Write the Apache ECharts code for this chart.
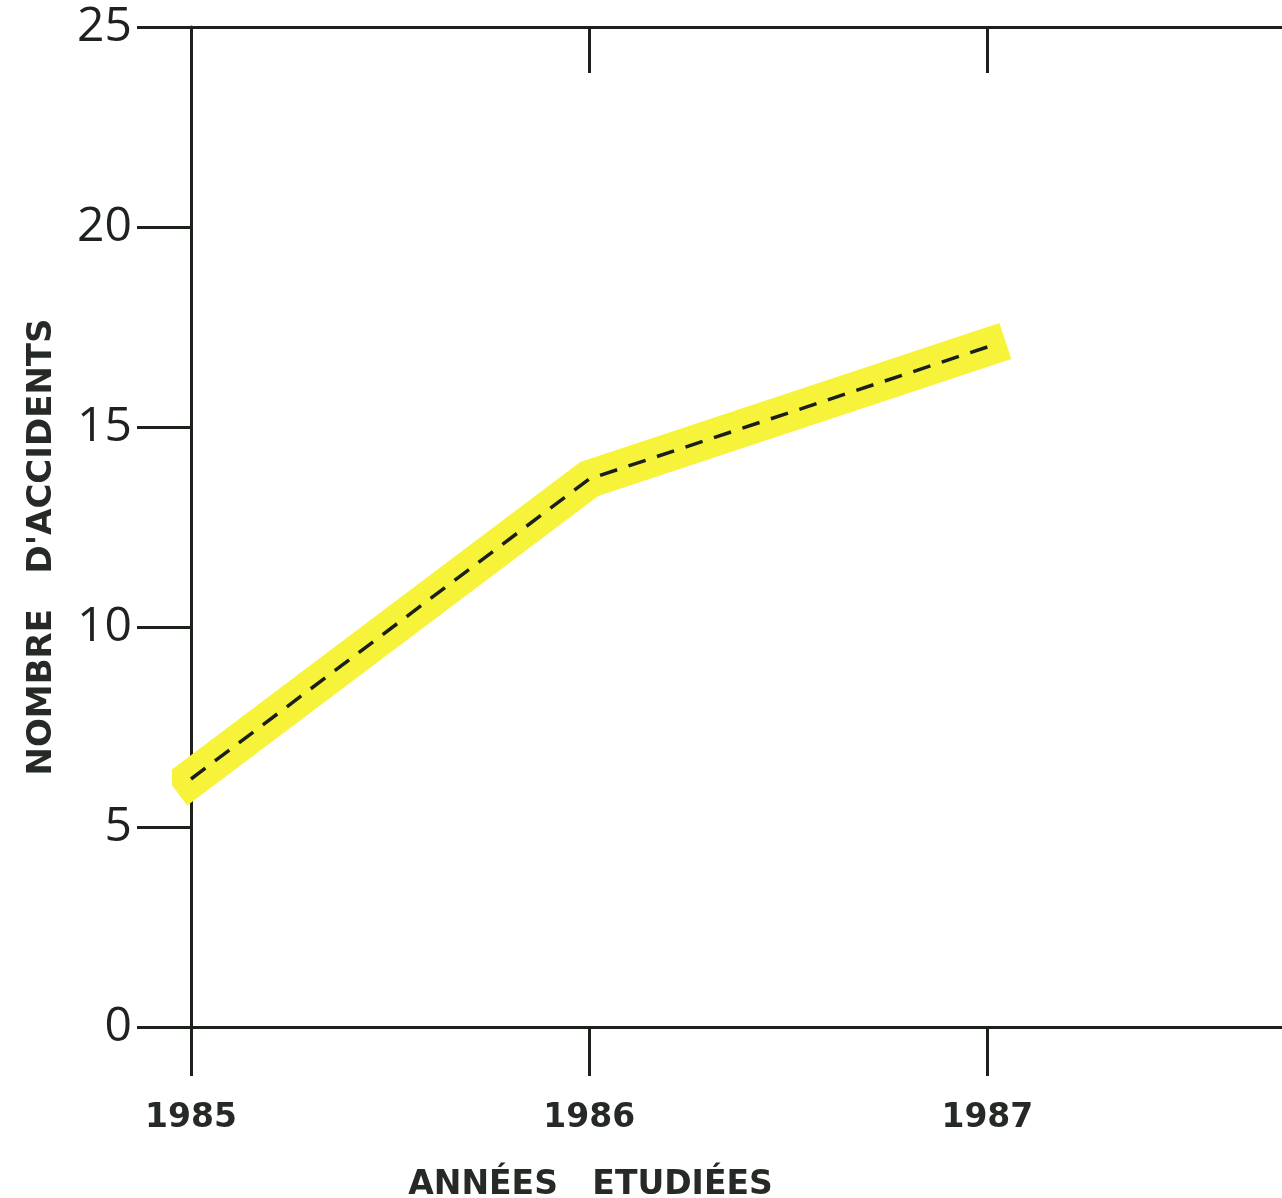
<!DOCTYPE html>
<html>
<head>
<meta charset="utf-8">
<script src="https://cdn.jsdelivr.net/npm/echarts@6/dist/echarts.min.js"></script>
<style>html,body{margin:0;padding:0;background:#fff}#c{width:1282px;height:1198px}</style>
</head>
<body>
<div id="c"></div>
<script>
const years = [1985, 1986, 1987];
const accidents = [6.2, 13.7, 17.0];
const yTicks = [0, 5, 10, 15, 20, 25];
const xTitle = 'ANNÉES   ETUDIÉES';
const yTitle = "NOMBRE   D'ACCIDENTS";

const ink = '#1c211c';
const txt = '#262a26';
const pts = years.map((y, i) => [y, accidents[i]]);

const chart = echarts.init(document.getElementById('c'));
chart.setOption({
  backgroundColor: '#ffffff',
  animation: false,
  grid: { left: 191, right: 0, top: 27, bottom: 171, containLabel: false, outerBoundsMode: 'none' },
  xAxis: [{
    type: 'value', min: 1985, max: 1987.74, position: 'bottom',
    name: xTitle, nameLocation: 'middle', nameGap: 142,
    nameTextStyle: { fontFamily: 'DejaVu Sans', fontWeight: 'bold', fontSize: 33, color: txt,
      padding: [0, 292, 0, 0] },
    axisLine: { show: true, onZero: false, lineStyle: { color: ink, width: 3 } },
    axisTick: { show: true, length: 49, inside: false, customValues: years, lineStyle: { color: ink, width: 3 } },
    axisLabel: { show: true, margin: 75, customValues: years, formatter: v => String(v),
      fontFamily: 'DejaVu Sans', fontWeight: 'bold', fontSize: 33, color: txt },
    splitLine: { show: false }
  }, {
    type: 'value', min: 1985, max: 1987.74, position: 'top',
    axisLine: { show: true, onZero: false, lineStyle: { color: ink, width: 3 } },
    axisTick: { show: true, length: 46, inside: true, customValues: years.slice(1), lineStyle: { color: ink, width: 3 } },
    axisLabel: { show: false },
    splitLine: { show: false }
  }],
  yAxis: {
    type: 'value', min: 0, max: 25, interval: 5,
    name: yTitle, nameLocation: 'middle', nameGap: 132, nameRotate: 90,
    nameTextStyle: { fontFamily: 'DejaVu Sans', fontWeight: 'bold', fontSize: 34, color: txt,
      padding: [0, 40, 0, 0] },
    axisLine: { show: true, lineStyle: { color: ink, width: 3 } },
    axisTick: { show: true, length: 54, inside: false, lineStyle: { color: ink, width: 3 } },
    axisLabel: { show: true, margin: 59, fontFamily: 'Open Sans', fontSize: 48, color: '#1e221e',
      customValues: yTicks },
    splitLine: { show: false }
  },
  series: [{
    type: 'line', data: pts, xAxisIndex: 0, symbol: 'none', silent: true, z: 2,
    lineStyle: { color: '#f7f33a', width: 38, cap: 'square', join: 'miter', opacity: 1 }
  }, {
    type: 'line', data: pts, xAxisIndex: 0, symbol: 'none', silent: true, z: 3,
    lineStyle: { color: '#1a1f1a', width: 3.5, type: [18, 12] }
  }]
});
</script>
</body>
</html>
